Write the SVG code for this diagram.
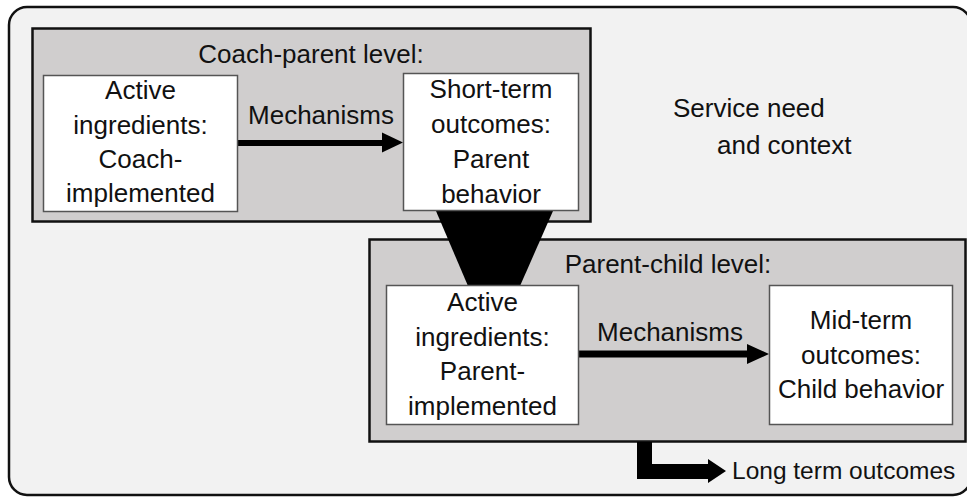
<svg xmlns="http://www.w3.org/2000/svg" width="967" height="497" viewBox="0 0 967 497">
  <style>
    .frame { fill: #f2f2f2; stroke: #111; stroke-width: 2.5; }
    .level { fill: #d0cece; stroke: #111; stroke-width: 2.5; }
    .box { fill: #ffffff; stroke: #555; stroke-width: 1.5; }
    text { font-family: "Liberation Sans", Arial, sans-serif; font-size: 26px; fill: #111; }
    .c { text-anchor: middle; }
    .small { font-size: 24.5px; }
  </style>

  <!-- outer context frame -->
  <g id="context">
    <rect class="frame" x="9" y="7" width="962" height="488" rx="18" ry="18"/>
    <text x="673" y="117">Service need</text>
    <text x="717" y="154">and context</text>
  </g>

  <!-- coach-parent level container -->
  <g id="coach-parent-level">
    <rect class="level" x="32.5" y="28.5" width="558" height="193"/>
    <text class="c" x="311" y="63">Coach-parent level:</text>
  </g>

  <!-- parent-child level container -->
  <g id="parent-child-level">
    <rect class="level" x="369.5" y="239.5" width="596" height="202"/>
    <text class="c" x="668" y="273">Parent-child level:</text>
  </g>

  <!-- connectors -->
  <g id="connectors" fill="#000">
    <!-- funnel between levels -->
    <polygon points="436,211 553,211 520,286 468,286"/>
    <!-- mechanisms, coach-parent -->
    <rect x="238" y="140" width="145" height="6"/>
    <polygon points="382,132.5 403,142.5 382,152.5"/>
    <!-- mechanisms, parent-child -->
    <rect x="579" y="350.5" width="169" height="7"/>
    <polygon points="747,344 769,354 747,364"/>
    <!-- long term outcomes -->
    <path d="M637,442 H652 V464 H708 V459 L726,471 L708,483 V479 H637 Z"/>
  </g>

  <g id="coach-active">
    <rect class="box" x="43.5" y="75.5" width="194" height="136"/>
    <text class="c" x="140.5" y="99">Active</text>
    <text class="c" x="140.5" y="134">ingredients:</text>
    <text class="c" x="140.5" y="168">Coach-</text>
    <text class="c" x="140.5" y="202">implemented</text>
  </g>

  <g id="short-term">
    <rect class="box" x="403.5" y="73.5" width="175" height="137"/>
    <text class="c" x="491" y="98">Short-term</text>
    <text class="c" x="491" y="133">outcomes:</text>
    <text class="c" x="491" y="168">Parent</text>
    <text class="c" x="491" y="203">behavior</text>
  </g>

  <g id="mechanisms-1">
    <text class="c" x="321" y="124">Mechanisms</text>
  </g>

  <g id="parent-active">
    <rect class="box" x="386.5" y="285.5" width="192" height="139"/>
    <text class="c" x="482.5" y="311">Active</text>
    <text class="c" x="482.5" y="346">ingredients:</text>
    <text class="c" x="482.5" y="380">Parent-</text>
    <text class="c" x="482.5" y="415">implemented</text>
  </g>

  <g id="mechanisms-2">
    <text class="c" x="670" y="341">Mechanisms</text>
  </g>

  <g id="mid-term">
    <rect class="box" x="769.5" y="285.5" width="183" height="139"/>
    <text class="c" x="861" y="329">Mid-term</text>
    <text class="c" x="861" y="364">outcomes:</text>
    <text class="c" x="861" y="398">Child behavior</text>
  </g>

  <g id="long-term">
    <text class="small" x="732" y="479">Long term outcomes</text>
  </g>
</svg>
